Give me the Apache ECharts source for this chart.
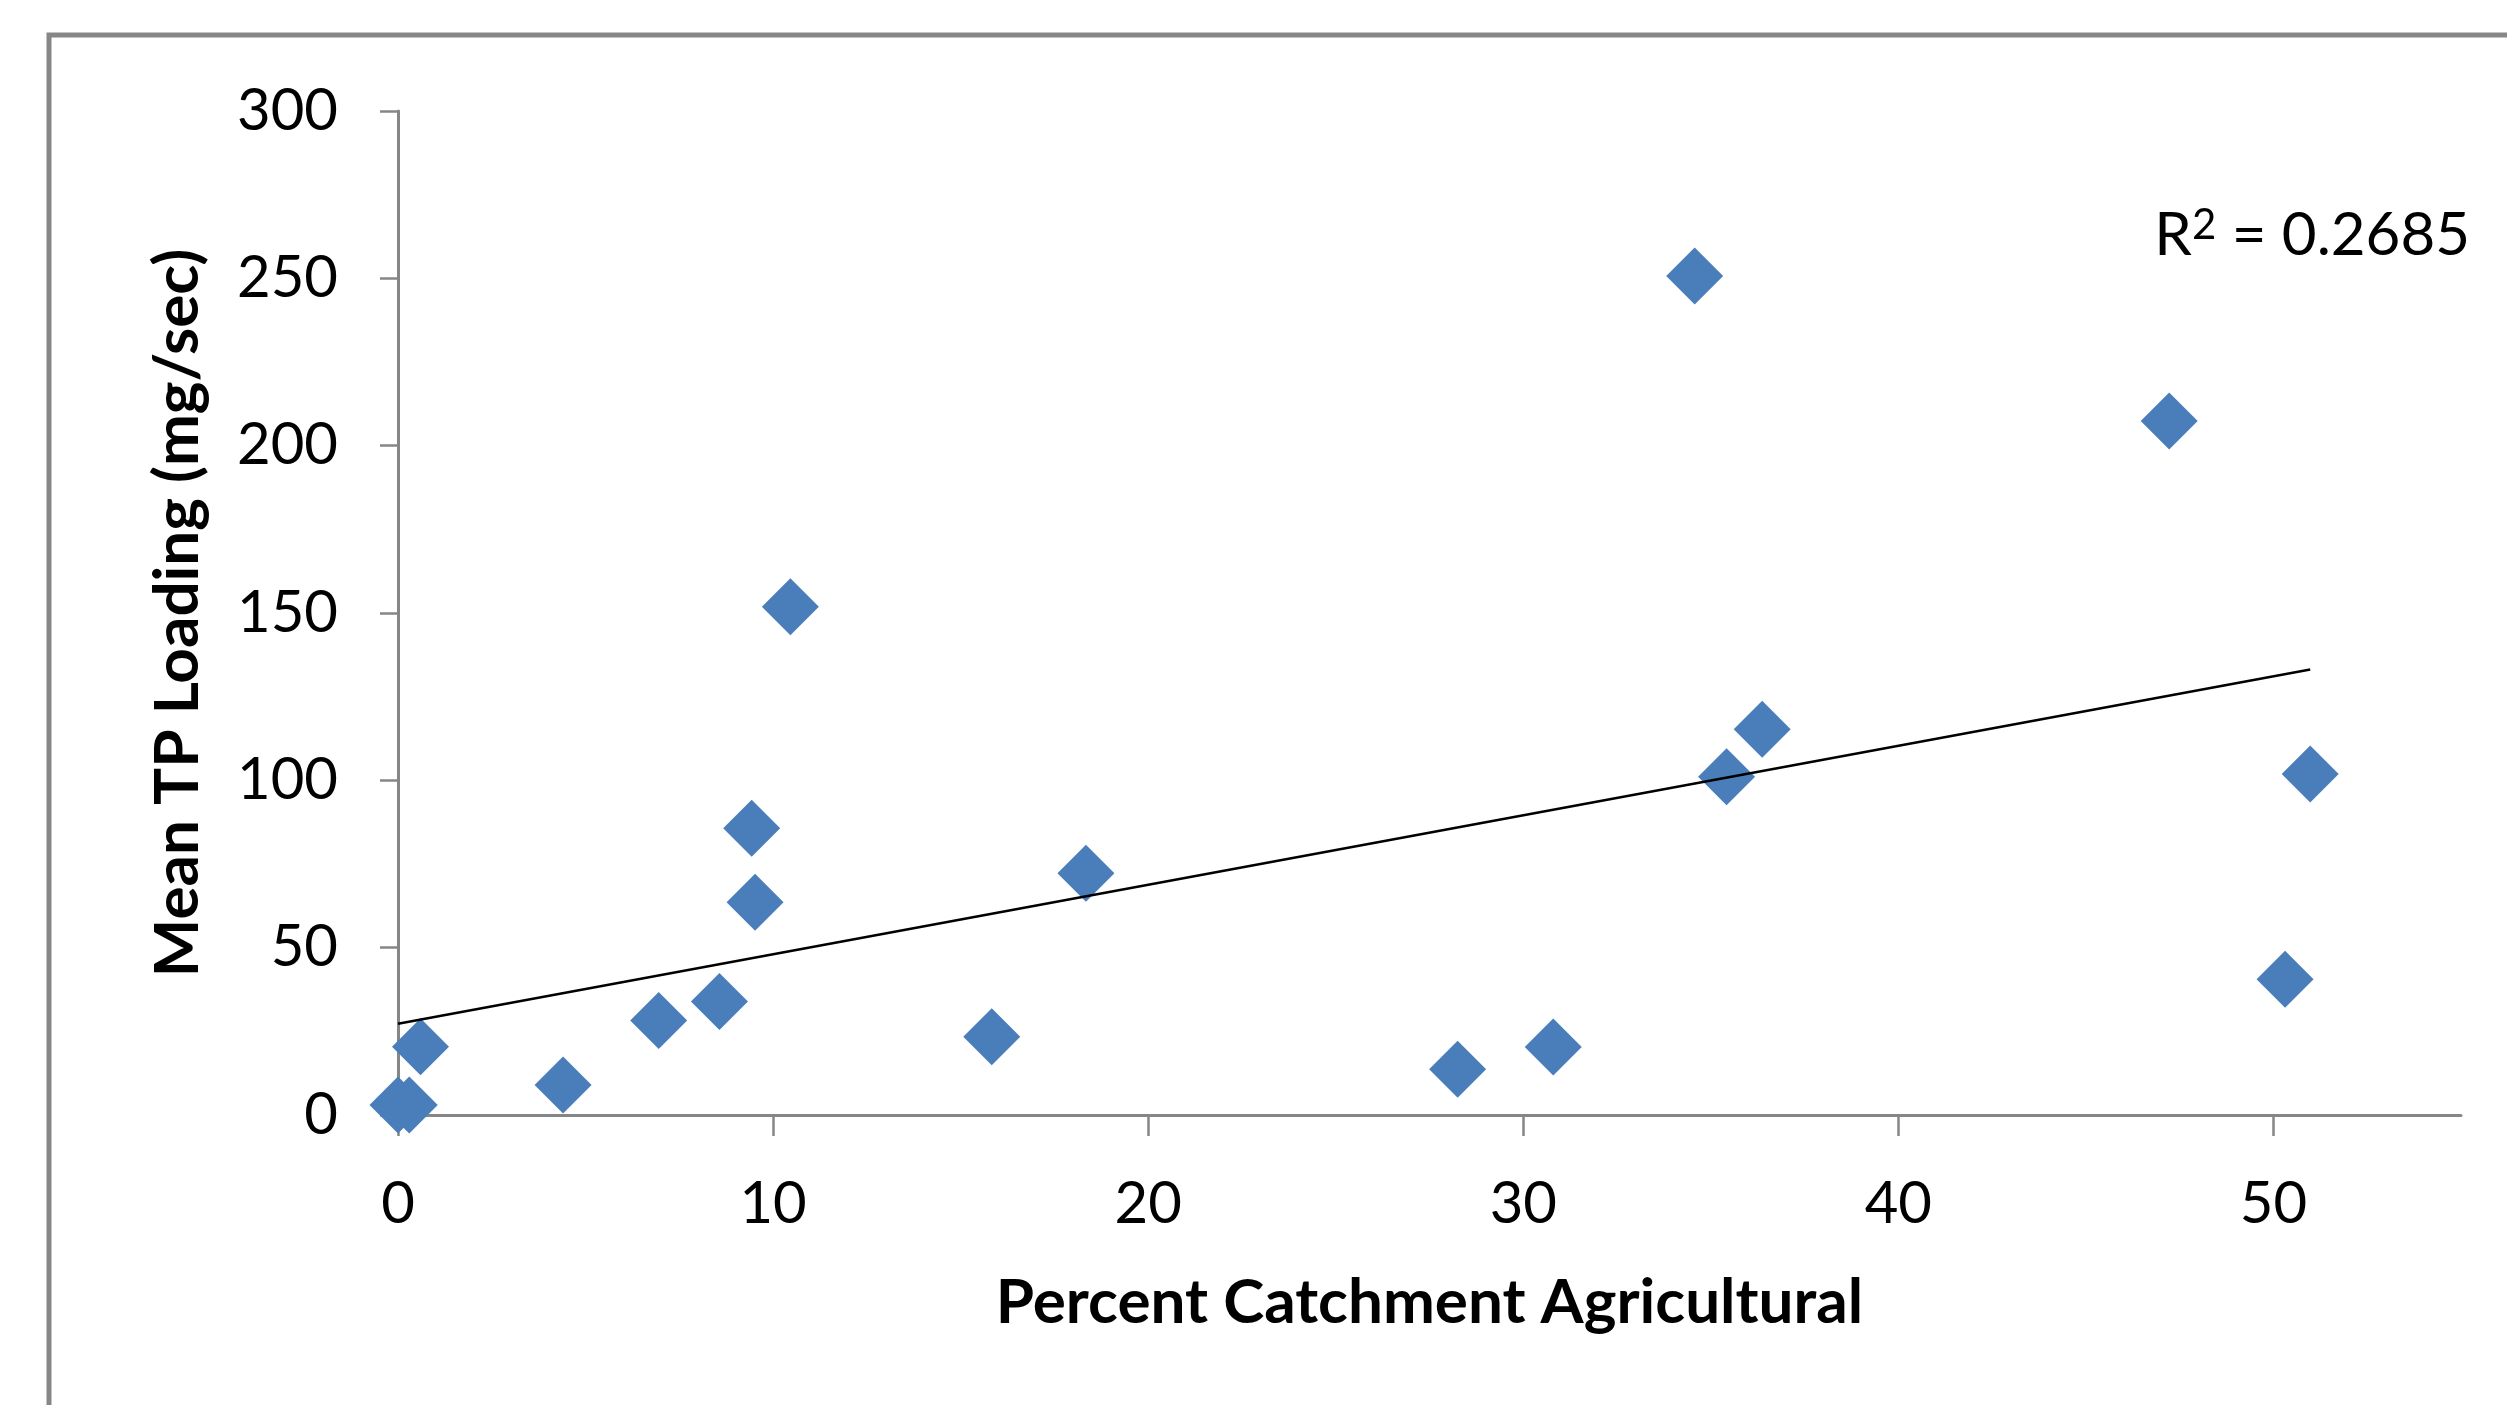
<!DOCTYPE html>
<html>
<head>
<meta charset="utf-8">
<script src="https://cdn.jsdelivr.net/npm/echarts@6/dist/echarts.min.js"></script>
<style>
  html, body { margin: 0; padding: 0; background: #ffffff; }
  #chart { width: 2507px; height: 1405px; }
</style>
</head>
<body>
<div id="chart"></div>
<script>
// ---- Data ----
const xValues = [0, 0.3, 0.6, 4.4, 6.95, 8.57, 9.43, 9.52, 10.46, 15.83, 18.34, 28.25, 30.8, 34.57, 35.42, 36.37, 47.22, 50.31, 50.98];
const yValues = [3, 3, 20.4, 9, 28.2, 33.9, 85.7, 63.6, 151.9, 23.4, 72.2, 13.7, 20.3, 250.7, 101.1, 115.3, 207.4, 40.6, 101.9];
const xTickValues = [0, 10, 20, 30, 40, 50];
const yTickValues = [0, 50, 100, 150, 200, 250, 300];
const xAxisTitle = 'Percent Catchment Agricultural';
const yAxisTitle = 'Mean TP Loading (mg/sec)';
const r2Text = '0.2685';

// ---- Linear least-squares trendline computed from the data ----
const n = xValues.length;
const mx = xValues.reduce((a, b) => a + b, 0) / n;
const my = yValues.reduce((a, b) => a + b, 0) / n;
let sxy = 0, sxx = 0;
for (let i = 0; i < n; i++) {
  sxy += (xValues[i] - mx) * (yValues[i] - my);
  sxx += (xValues[i] - mx) * (xValues[i] - mx);
}
const slope = sxy / sxx;
const intercept = my - slope * mx;
const xMin = Math.min(...xValues), xMax = Math.max(...xValues);
const trendData = [[xMin, intercept + slope * xMin], [xMax, intercept + slope * xMax]];

const points = xValues.map((x, i) => [x, yValues[i]]);

const labelFont = 'Lato, "Open Sans", "Liberation Sans", sans-serif';
const axisGray = '#868686';

const chart = echarts.init(document.getElementById('chart'), null, { renderer: 'canvas' });
chart.setOption({
  backgroundColor: '#ffffff',
  animation: false,
  grid: { left: 398, right: 46, top: 111, bottom: 290, containLabel: false },
  xAxis: {
    type: 'value',
    min: 0, max: 55, interval: 10,
    name: xAxisTitle,
    nameLocation: 'middle',
    nameGap: 157,
    nameTextStyle: { fontFamily: labelFont, fontWeight: 'bold', fontSize: 62, color: '#000' },
    axisLine: { show: true, onZero: false, lineStyle: { color: axisGray, width: 3 } },
    axisTick: { show: true, length: 21, inside: false, customValues: xTickValues, lineStyle: { color: axisGray, width: 2.5 } },
    axisLabel: { customValues: xTickValues, margin: 60, fontFamily: labelFont, fontSize: 58, color: '#000' },
    splitLine: { show: false }
  },
  yAxis: {
    type: 'value',
    min: 0, max: 300, interval: 50,
    name: yAxisTitle,
    nameLocation: 'middle',
    nameGap: 189,
    nameRotate: 90,
    nameTextStyle: { fontFamily: labelFont, fontWeight: 'bold', fontSize: 62, color: '#000' },
    axisLine: { show: true, onZero: false, lineStyle: { color: axisGray, width: 3 } },
    axisTick: { show: true, length: 18, inside: false, customValues: yTickValues, lineStyle: { color: axisGray, width: 2.5 } },
    axisLabel: { customValues: yTickValues, margin: 60, fontFamily: labelFont, fontSize: 58, color: '#000' },
    splitLine: { show: false }
  },
  graphic: [
    {
      type: 'rect',
      silent: true,
      shape: { x: 49, y: 35, width: 5000, height: 5000 },
      style: { fill: 'none', stroke: '#878787', lineWidth: 5 },
      z: -10
    },
    {
      type: 'text',
      silent: true,
      style: {
        x: 2470, y: 236,
        align: 'right', verticalAlign: 'middle',
        text: '{r|R}{s|2}{r| = ' + r2Text + '}',
        rich: {
          r: { fontFamily: labelFont, fontSize: 60, lineHeight: 64, color: '#000' },
          s: { fontFamily: labelFont, fontSize: 42, lineHeight: 46, color: '#000', verticalAlign: 'top' }
        }
      },
      z: 10
    }
  ],
  series: [
    {
      type: 'scatter',
      data: points,
      symbol: 'diamond',
      symbolSize: 57,
      clip: false,
      itemStyle: { color: '#4a7ebb', opacity: 1 },
      z: 3
    },
    {
      type: 'line',
      data: trendData,
      showSymbol: false,
      symbol: 'none',
      clip: false,
      lineStyle: { color: '#000000', width: 2.5 },
      z: 4
    }
  ]
});
</script>
</body>
</html>
